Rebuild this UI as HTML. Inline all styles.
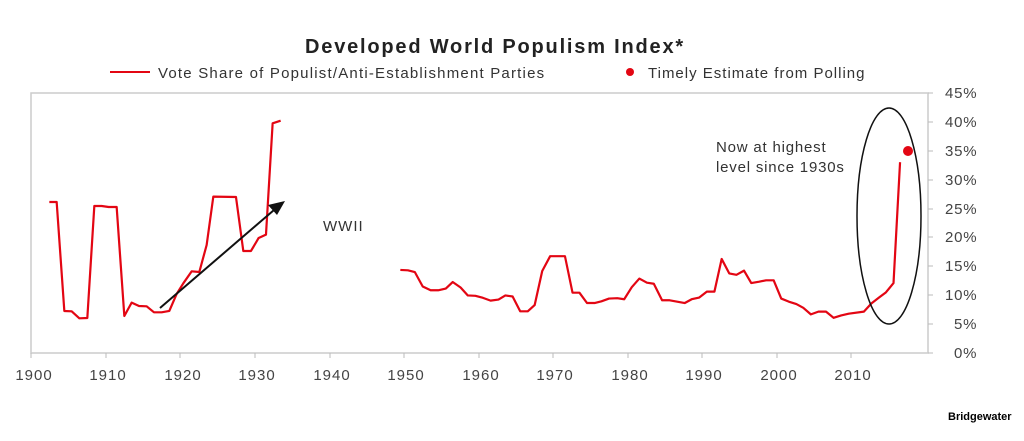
<!DOCTYPE html>
<html><head><meta charset="utf-8"><style>
body{margin:0;background:#fff;width:1024px;height:436px;overflow:hidden;font-family:"Liberation Sans",sans-serif}
</style></head><body>
<svg width="1024" height="436" xmlns="http://www.w3.org/2000/svg" font-family="Liberation Sans, sans-serif">
<text x="495" y="53" text-anchor="middle" font-size="20" font-weight="bold" fill="#222" letter-spacing="1.8">Developed World Populism Index*</text>
<line x1="110" y1="72" x2="150" y2="72" stroke="#e30613" stroke-width="2"/>
<text x="158" y="78" font-size="15" fill="#333" letter-spacing="1.2">Vote Share of Populist/Anti-Establishment Parties</text>
<circle cx="630" cy="72" r="4" fill="#e30613"/>
<text x="648" y="78" font-size="15" fill="#333" letter-spacing="1">Timely Estimate from Polling</text>
<g stroke="#ccc" stroke-width="1.5" fill="none">
<path d="M31 93 L928 93 L928 353 L31 353 Z"/>
</g>
<g stroke="#bbb" stroke-width="1">
<line x1="31" y1="353" x2="31" y2="358"/><line x1="106" y1="353" x2="106" y2="358"/><line x1="180" y1="353" x2="180" y2="358"/><line x1="255" y1="353" x2="255" y2="358"/><line x1="330" y1="353" x2="330" y2="358"/><line x1="404" y1="353" x2="404" y2="358"/><line x1="479" y1="353" x2="479" y2="358"/><line x1="553" y1="353" x2="553" y2="358"/><line x1="628" y1="353" x2="628" y2="358"/><line x1="702" y1="353" x2="702" y2="358"/><line x1="777" y1="353" x2="777" y2="358"/><line x1="851" y1="353" x2="851" y2="358"/>
<line x1="928" y1="93" x2="933" y2="93"/><line x1="928" y1="122" x2="933" y2="122"/><line x1="928" y1="151" x2="933" y2="151"/><line x1="928" y1="180" x2="933" y2="180"/><line x1="928" y1="209" x2="933" y2="209"/><line x1="928" y1="237" x2="933" y2="237"/><line x1="928" y1="266" x2="933" y2="266"/><line x1="928" y1="295" x2="933" y2="295"/><line x1="928" y1="324" x2="933" y2="324"/><line x1="928" y1="353" x2="933" y2="353"/>
</g>
<g font-size="15" fill="#444" text-anchor="middle" letter-spacing="1">
<text x="34" y="380">1900</text><text x="108" y="380">1910</text><text x="183" y="380">1920</text><text x="257" y="380">1930</text><text x="332" y="380">1940</text><text x="406" y="380">1950</text><text x="481" y="380">1960</text><text x="555" y="380">1970</text><text x="630" y="380">1980</text><text x="704" y="380">1990</text><text x="779" y="380">2000</text><text x="853" y="380">2010</text>
</g>
<g font-size="15" fill="#444" letter-spacing="0.8">
<text x="945" y="98">45%</text><text x="945" y="127">40%</text><text x="945" y="156">35%</text><text x="945" y="185">30%</text><text x="945" y="214">25%</text><text x="945" y="242">20%</text><text x="945" y="271">15%</text><text x="945" y="300">10%</text><text x="954" y="329">5%</text><text x="954" y="358">0%</text>
</g>
<g transform="translate(30,90) scale(0.3333)">
<polyline fill="none" stroke="#e30613" stroke-width="2.2" vector-effect="non-scaling-stroke" stroke-linejoin="round" points="58,336 80,336 103,663 125,664 148,685 172,684 193,348 215,348 236,351 260,351 283,678 305,638 327,648 350,649 372,667 395,667 418,663 440,612 460,580 485,544 508,546 530,465 550,320 618,321 640,483 663,483 686,444 708,434 728,100 752,92"/>
</g>
<g transform="translate(390,240) scale(0.3444)">
<polyline fill="none" stroke="#e30613" stroke-width="2.2" vector-effect="non-scaling-stroke" stroke-linejoin="round" points="30,87 52,88 72,93 95,135 118,146 140,146 162,141 182,122 205,138 226,161 248,162 270,168 292,176 315,173 335,161 356,164 378,207 400,207 420,189 442,90 465,47 508,47 530,153 550,153 572,183 594,183 614,178 636,170 660,169 680,172 702,137 724,112 746,124 766,127 790,175 812,175 834,179 856,183 876,172 898,167 920,150 942,150 963,55 985,97 1006,101 1028,89 1049,125 1072,121 1092,117 1114,117 1136,170 1158,179 1180,186 1200,197 1222,216 1244,208 1266,208 1288,226 1310,219 1332,214 1376,208 1398,184 1420,167 1440,152 1462,125 1481,-226"/>
</g>
<circle cx="908" cy="151" r="5" fill="#e30613"/>
<ellipse cx="889" cy="216" rx="32" ry="108" fill="none" stroke="#111" stroke-width="1.5"/>
<line x1="160" y1="308" x2="274" y2="210" stroke="#111" stroke-width="2"/>
<polygon points="285,201 268,205 277,215" fill="#111"/>
<text x="323" y="231" font-size="15" fill="#333" letter-spacing="1">WWII</text>
<text x="716" y="152" font-size="15" fill="#333" letter-spacing="0.8">Now at highest</text>
<text x="716" y="172" font-size="15" fill="#333" letter-spacing="0.8">level since 1930s</text>
<text x="948" y="420" font-size="11" font-weight="bold" fill="#000">Bridgewater</text>
</svg>
</body></html>
